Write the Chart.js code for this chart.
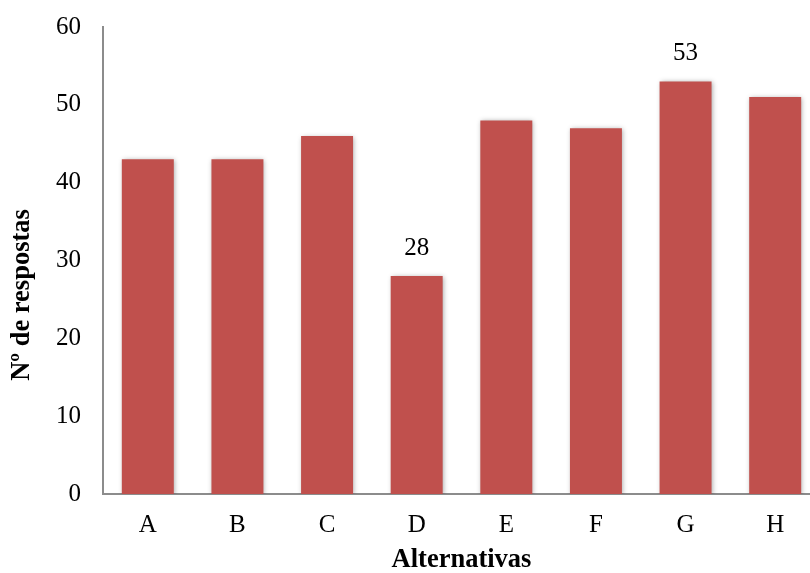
<!DOCTYPE html>
<html>
<head>
<meta charset="utf-8">
<script src="https://cdn.jsdelivr.net/npm/chart.js@4.4.1/dist/chart.umd.min.js"></script>
<style>
  html, body { margin: 0; padding: 0; background: #fff; overflow: hidden; }
  #wrap { width: 820px; height: 573px; position: relative; }
</style>
</head>
<body>
<div id="wrap"><canvas id="respChart"></canvas></div>
<script>
const categories = ['A', 'B', 'C', 'D', 'E', 'F', 'G', 'H'];
const respostas = [43, 43, 46, 28, 48, 47, 53, 51];
const showValue = [false, false, false, true, false, false, true, false];
const yTicks = [0, 10, 20, 30, 40, 50, 60];

const serif = "'Liberation Serif', 'Times New Roman', serif";

// shadow under the bars + value labels + axis titles
const extras = {
    id: 'extras',
    beforeDatasetsDraw(chart) {
        const ctx = chart.ctx;
        ctx.save();
        ctx.shadowColor = 'rgba(0,0,0,0.35)';
        ctx.shadowBlur = 5;
        ctx.shadowOffsetX = 1;
        ctx.shadowOffsetY = 1;
    },
    afterDatasetsDraw(chart) {
        const ctx = chart.ctx;
        ctx.restore();
        const meta = chart.getDatasetMeta(0);
        ctx.save();
        ctx.font = '25px ' + serif;
        ctx.fillStyle = '#000';
        ctx.textAlign = 'center';
        ctx.textBaseline = 'middle';
        meta.data.forEach(function(bar, i) {
            if (showValue[i]) {
                ctx.fillText(String(respostas[i]), bar.x, bar.y - 28);
            }
        });
        ctx.restore();
    },
    afterDraw(chart) {
        const ctx = chart.ctx;
        const area = chart.chartArea;
        ctx.save();
        ctx.font = 'bold 26.5px ' + serif;
        ctx.fillStyle = '#000';
        ctx.textAlign = 'center';
        ctx.textBaseline = 'middle';
        ctx.fillText('Alternativas', (area.left + area.right) / 2, 560);
        ctx.translate(22, 295);
        ctx.rotate(-Math.PI / 2);
        ctx.fillText('Nº de respostas', 0, 0);
        ctx.restore();
    }
};

const ctx = document.getElementById('respChart').getContext('2d');
new Chart(ctx, {
    type: 'bar',
    data: {
        labels: categories,
        datasets: [{
            data: respostas,
            backgroundColor: '#C0504D',
            borderWidth: 0,
            barPercentage: 0.58,
            categoryPercentage: 1
        }]
    },
    options: {
        responsive: true,
        maintainAspectRatio: false,
        animation: false,
        layout: { padding: { top: 27, right: 0, bottom: 0, left: 0 } },
        plugins: {
            legend: { display: false },
            tooltip: { enabled: false }
        },
        scales: {
            x: {
                grid: { display: false, drawTicks: false },
                border: { display: true, color: '#8c8c8c', width: 2 },
                ticks: {
                    color: '#000',
                    font: { family: serif, size: 25 },
                    padding: 16
                },
                afterFit: function(scale) { scale.height = 79; }
            },
            y: {
                min: 0,
                max: 60,
                grid: { display: false, drawTicks: false },
                border: { display: true, color: '#8c8c8c', width: 2 },
                afterBuildTicks: function(scale) {
                    scale.ticks = yTicks.map(function(v) { return { value: v }; });
                },
                ticks: {
                    color: '#000',
                    font: { family: serif, size: 25 },
                    padding: 22
                },
                afterFit: function(scale) {
                    scale.width = 103;
                    scale.paddingTop = 0;
                    scale.paddingBottom = 0;
                }
            }
        }
    },
    plugins: [extras]
});
</script>
</body>
</html>
